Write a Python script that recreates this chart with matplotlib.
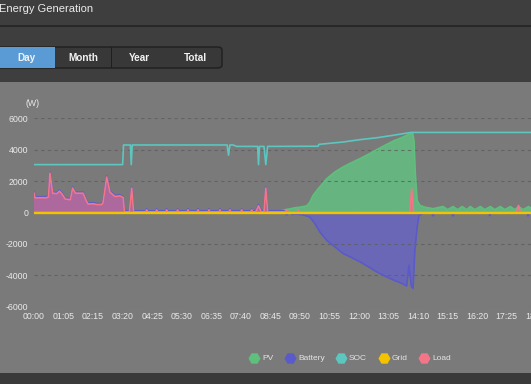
import matplotlib
matplotlib.use('Agg')
import matplotlib.pyplot as plt
from matplotlib.patches import Rectangle, FancyBboxPatch
from matplotlib.lines import Line2D

plt.rcParams['font.family'] = ['Liberation Sans', 'DejaVu Sans']

W, H = 531, 384

# ---------------------------------------------------------------------------
# data (x = sample slot in minutes)
# ---------------------------------------------------------------------------
tick_labels = ['00:00', '01:05', '02:15', '03:20', '04:25', '05:30', '06:35',
               '07:40', '08:45', '09:50', '10:55', '12:00', '13:05', '14:10',
               '15:15', '16:20', '17:25', '18:30']
y_ticks = [-6000, -4000, -2000, 0, 2000, 4000, 6000]

load_t = [0, 2, 28, 32, 35, 41, 50, 56, 61, 69, 80, 85, 91, 108, 115, 119, 130,
          138, 149, 152, 160, 167, 178, 189, 196, 199, 210, 215, 219,
          246, 248, 250, 268, 270, 272, 290, 292, 294, 314, 316, 318,
          337, 339, 341, 359, 361, 363, 383, 385, 387, 407, 409, 411,
          429, 431, 433, 455, 457, 459, 477, 479, 481, 488, 494, 500,
          506, 510, 514, 555, 557, 559, 579, 581, 583, 827, 831, 835,
          1062, 1066, 1070, 1200]
load_v = [1230, 940, 940, 1000, 2510, 1230, 1200, 1360, 1200, 855, 820, 1560,
          1230, 1230, 750, 540, 560, 510, 510, 640, 2260, 1300, 1020, 1060, 960,
          40, 40, 1560, 40,
          40, 170, 40, 40, 170, 40, 40, 170, 40, 40, 170, 40,
          40, 170, 40, 40, 170, 40, 40, 170, 40, 40, 170, 40,
          40, 170, 40, 40, 170, 40, 40, 170, 40, 40, 430, 40,
          40, 1560, 40, 40, 170, 40, 40, 170, 40, 40, 1510, 40,
          40, 450, 40, 40]

battery_t = [0, 2, 28, 32, 35, 41, 50, 56, 61, 69, 80, 85, 91, 108, 115, 119,
             130, 138, 149, 152, 160, 167, 178, 189, 196, 199, 210, 215, 219,
             246, 248, 250, 268, 270, 272, 290, 292, 294, 314, 316, 318,
             337, 339, 341, 359, 361, 363, 383, 385, 387, 407, 409, 411,
             429, 431, 433, 455, 457, 459, 477, 479, 481, 488, 494, 500,
             506, 510, 514, 550, 556, 562, 568, 578, 592, 607, 618, 629, 644,
             662, 680, 699, 717, 736, 754, 772, 791, 809, 820, 825, 830, 834,
             838, 843, 847, 856, 875, 878, 881, 919, 922, 925, 1000, 1003,
             1006, 1084, 1087, 1090, 1200]
battery_v = [1290, 1000, 1000, 1060, 2570, 1290, 1260, 1420, 1260, 915, 880,
             1620, 1290, 1290, 810, 600, 620, 570, 570, 700, 2320, 1360, 1080,
             1120, 1020, 110, 110, 1620, 110,
             110, 230, 110, 110, 230, 110, 110, 230, 110, 110, 230, 110,
             110, 230, 110, 110, 230, 110, 110, 230, 110, 110, 230, 110,
             110, 230, 110, 110, 230, 110, 110, 230, 110, 110, 490, 110,
             110, 1620, 110, 110, -150, 20, -120, -100, -150, -290, -710,
             -1240, -1770, -2190, -2610, -2870, -3140, -3460, -3780, -4050,
             -4300, -4510, -4680, -3350, -4680, -4830, -2400, -930, -190, -50,
             -30, -220, -30, -30, -220, -30, -30, -200, -30, -30, -220, -30,
             -30]

pv_t = [0, 497, 530, 541, 556, 563, 574, 585, 600, 607, 614, 625, 644, 662,
        680, 699, 717, 736, 754, 772, 791, 809, 820, 833, 836, 839, 843, 849,
        860, 878, 900, 910, 922, 932, 942, 952, 960, 970, 982, 992, 1004,
        1014, 1026, 1036, 1048, 1058, 1066, 1076, 1088, 1098, 1200]
pv_v = [0, 0, 60, 80, 200, 230, 300, 340, 420, 660, 1090, 1500, 2150, 2580,
        2900, 3180, 3430, 3710, 4000, 4280, 4560, 4770, 4920, 5070, 4600,
        2470, 770, 450, 340, 240, 380, 180, 380, 180, 380, 180, 380, 180, 380,
        180, 380, 180, 380, 180, 380, 180, 380, 180, 380, 180, 200]

soc_t = [0, 195, 197, 212, 214, 216, 425, 428, 431, 438, 446, 492, 494, 496,
         506, 510, 514, 625, 627, 680, 717, 754, 791, 823, 830, 1200]
soc_v = [3050, 3050, 4300, 4300, 3050, 4300, 4300, 3650, 4300, 4300, 4210,
         4210, 3050, 4210, 4210, 3050, 4210, 4220, 4340, 4490, 4640, 4760,
         4920, 5070, 5100, 5100]

grid_t = [0, 1200]
grid_v = [0, 0]

names = ['PV', 'Battery', 'SOC', 'Grid', 'Load']
colors = ['#5fbf7c', '#5a5acb', '#5cc6bf', '#f3c300', '#f27688']

# ---------------------------------------------------------------------------
fig = plt.figure(figsize=(W / 100, H / 100), dpi=100)
fig.patch.set_facecolor('#3e3e3e')


def fx(x):
    return x / W


def fy(y):
    return 1 - y / H


def rect(x0, y0, x1, y1, color, z=-5):
    fig.add_artist(Rectangle((fx(x0), fy(y1)), fx(x1) - fx(x0), fy(y0) - fy(y1),
                             transform=fig.transFigure, color=color, zorder=z,
                             linewidth=0))


# header, separator and chart panel
rect(0, 25, W, 26.5, '#272727')
rect(0, 82, W, 372.5, '#7a7a7a')
rect(0, 372.5, W, H, '#3a3a3a')

fig.text(fx(-1), fy(8.5), 'Energy Generation', color='#ececec', fontsize=8,
         ha='left', va='center')

# segmented control
seg = FancyBboxPatch((fx(-10), fy(68)), fx(232), fy(47) - fy(68),
                     boxstyle='round,pad=0,rounding_size=0.008',
                     transform=fig.transFigure, facecolor='#383838',
                     edgecolor='#1f1f1f', linewidth=1.0, zorder=-4)
fig.add_artist(seg)
rect(0, 47.5, 55, 67.5, '#5b9bd5', z=-3)
for xs in [55, 111, 168]:
    rect(xs - 0.5, 47, xs + 0.5, 68, '#1f1f1f', z=-3)
for label, cx in zip(['Day', 'Month', 'Year', 'Total'], [27, 83, 139.5, 195]):
    fig.text(fx(cx), fy(58), label, color='#f2f2f2', fontsize=7.2,
             fontweight='bold', ha='center', va='center')

# ---------------------------------------------------------------------------
px_per_min = 0.4545
x_max = 1200
ax = fig.add_axes([fx(34), fy(306.7), x_max * px_per_min / W, (306.7 - 118.3) / H])
ax.set_facecolor('none')
ax.set_xlim(0, x_max)
ax.set_ylim(-6000, 6000)

ax.fill_between(battery_t, battery_v, 0, color='#6664c6', alpha=0.8, linewidth=0, zorder=2)
ax.fill_between(pv_t, pv_v, 0, color='#62c484', alpha=0.8, linewidth=0, zorder=2)
ax.fill_between(load_t, load_v, 0, color='#f06a88', alpha=0.5, linewidth=0, zorder=3)

ax.plot(pv_t, pv_v, color=colors[0], linewidth=1.2, zorder=4)
ax.plot(battery_t, battery_v, color=colors[1], linewidth=1.2, zorder=4)
ax.plot(load_t, load_v, color=colors[4], linewidth=1.2, zorder=5)
ax.plot(soc_t, soc_v, color=colors[2], linewidth=1.2, zorder=5)
ax.plot(grid_t, grid_v, color=colors[3], linewidth=1.7, zorder=6)

ax.set_xticks([i * 65 for i in range(len(tick_labels))])
ax.set_xticklabels(tick_labels)
ax.set_yticks(y_ticks)
ax.set_yticklabels([str(v) for v in y_ticks])
ax.tick_params(length=0, colors='#eaeaea', labelsize=6.3)
ax.tick_params(axis='y', pad=4.3)
ax.tick_params(axis='x', pad=4.0)
ax.set_axisbelow(False)
ax.grid(axis='y', color='#5e5e5e', linestyle=(0, (3, 3)), linewidth=0.8, alpha=0.8)
for s in ax.spines.values():
    s.set_visible(False)

fig.text(fx(32.5), fy(104), '(W)', color='#eaeaea', fontsize=6.3,
         ha='center', va='center')

# legend
marker_x = [254.3, 290, 340.7, 383.7, 424]
for name, c, mx in zip(names, colors, marker_x):
    fig.add_artist(Line2D([fx(mx)], [fy(358.3)], transform=fig.transFigure,
                          marker='H', markersize=7.5, color=c, linestyle='none'))
    fig.text(fx(mx + 8.3), fy(358.3), name, color='#e4e4e4', fontsize=6,
             ha='left', va='center')

fig.savefig('out.png', dpi=100, facecolor=fig.get_facecolor())
